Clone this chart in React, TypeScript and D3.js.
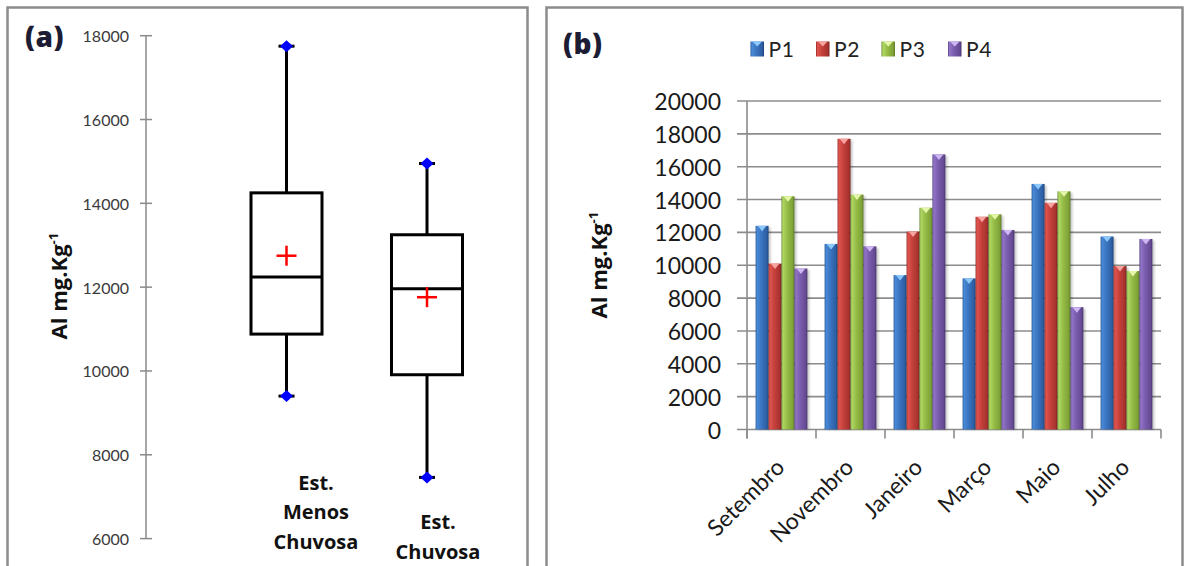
import React from "react";
import * as d3 from "d3";

// ---- Panel (a): seasonal box plot of Al ----
const seasonNames = ["Est. Menos Chuvosa", "Est. Chuvosa"];
const seasonLabelLines = [
  ["Est.", "Menos", "Chuvosa"],
  ["Est.", "Chuvosa"],
];
const seasonMin = [9400, 7460];
const seasonQ1 = [10880, 9910];
const seasonMedian = [12240, 11960];
const seasonQ3 = [14250, 13250];
const seasonMax = [17750, 14950];
const seasonMean = [12750, 11760];
const boxTicks = [6000, 8000, 10000, 12000, 14000, 16000, 18000];

// ---- Panel (b): monthly Al per point ----
const months = ["Setembro", "Novembro", "Janeiro", "Março", "Maio", "Julho"];
const seriesNames = ["P1", "P2", "P3", "P4"];
const p1 = [12400, 11300, 9400, 9200, 14950, 11750];
const p2 = [10100, 17700, 12050, 12950, 13800, 9950];
const p3 = [14200, 14300, 13500, 13100, 14500, 9650];
const p4 = [9800, 11150, 16750, 12150, 7450, 11600];
const seriesValues = [p1, p2, p3, p4];
const barTicks = [0, 2000, 4000, 6000, 8000, 10000, 12000, 14000, 16000, 18000, 20000];

// gradient stops per series: [edge, highlight, base, shade, edge], bevel tip colour
const seriesGradients = [
  ["#1f4f8f", "#4a8ad6", "#3a74c0", "#2d5fa3", "#1f4680"],
  ["#8a2522", "#e05550", "#c5403b", "#a8332f", "#7c2220"],
  ["#5f7f25", "#b0d865", "#94bb45", "#7fa338", "#5e7c25"],
  ["#4f3a78", "#9275c8", "#7a5cad", "#664b94", "#4a3670"],
];
const seriesBevel = ["#8cc8fa", "#f7a3a0", "#e4f7a8", "#cdb6f2"];

const W = 1187;
const H = 566;
const FONT = "Lato, 'Open Sans', sans-serif";
const BOLD = "'Open Sans', Lato, sans-serif";
const FRAME = "#8c8c8c";

function YTitle({ x, y, size }: { x: number; y: number; size: number }) {
  return (
    <text
      transform={`translate(${x},${y}) rotate(-90)`}
      textAnchor="middle"
      fontFamily={BOLD}
      fontWeight={700}
      fontSize={size}
      fill="#111"
    >
      Al mg.Kg
      <tspan fontSize={size * 0.6} dy={-size * 0.42}>
        -1
      </tspan>
    </text>
  );
}

function PanelTag({ x, y, label }: { x: number; y: number; label: string }) {
  return (
    <text
      x={x}
      y={y}
      fontFamily={BOLD}
      fontWeight={800}
      fontSize={28}
      letterSpacing={0.5}
      fill="#1c1c34"
    >
      {label}
    </text>
  );
}

function BoxPanel() {
  const y = d3.scaleLinear().domain([6000, 18000]).range([538.6, 35.7]);
  const x = d3.scalePoint<string>().domain(seasonNames).range([286.5, 427]);
  const axisX = 146;
  const halfW = 35.5;
  const labelDx = [29.5, 11];
  const labelTop = [482, 521.5];
  const lineH = 29.5;

  return (
    <g>
      <rect x={7.5} y={7.5} width={520} height={620} fill="#fff" stroke={FRAME} strokeWidth={2.5} />
      <PanelTag x={25} y={47} label="(a)" />

      {/* axis */}
      <line x1={axisX} x2={axisX} y1={y(18000)} y2={y(6000)} stroke="#8a8a8a" strokeWidth={1.5} />
      {boxTicks.map((t) => (
        <g key={t}>
          <line x1={140} x2={152} y1={y(t)} y2={y(t)} stroke="#8a8a8a" strokeWidth={1.5} />
          <text
            x={129}
            y={y(t)}
            textAnchor="end"
            dominantBaseline="central"
            fontFamily={FONT}
            fontSize={16}
            fill="#3a3a3a"
          >
            {t}
          </text>
        </g>
      ))}
      <YTitle x={67} y={286} size={22} />

      {seasonNames.map((s, i) => {
        const cx = x(s) as number;
        const yMax = y(seasonMax[i]);
        const yMin = y(seasonMin[i]);
        const yQ3 = y(seasonQ3[i]);
        const yQ1 = y(seasonQ1[i]);
        const yMed = y(seasonMedian[i]);
        const yMean = y(seasonMean[i]);
        const diamond = (yy: number) =>
          `M${cx},${yy - 6} L${cx + 6.5},${yy} L${cx},${yy + 6} L${cx - 6.5},${yy} Z`;
        return (
          <g key={s}>
            <line x1={cx} x2={cx} y1={yMax} y2={yQ3} stroke="#000" strokeWidth={3} />
            <line x1={cx} x2={cx} y1={yQ1} y2={yMin} stroke="#000" strokeWidth={3} />
            <line x1={cx - 8} x2={cx + 8} y1={yMax} y2={yMax} stroke="#000" strokeWidth={3} />
            <line x1={cx - 8} x2={cx + 8} y1={yMin} y2={yMin} stroke="#000" strokeWidth={3} />
            <path d={diamond(yMax)} fill="#0000ff" />
            <path d={diamond(yMin)} fill="#0000ff" />
            <rect
              x={cx - halfW}
              y={yQ3}
              width={halfW * 2}
              height={yQ1 - yQ3}
              fill="none"
              stroke="#000"
              strokeWidth={3}
            />
            <line x1={cx - halfW} x2={cx + halfW} y1={yMed} y2={yMed} stroke="#000" strokeWidth={3} />
            <line x1={cx - 10} x2={cx + 10} y1={yMean} y2={yMean} stroke="#ff0000" strokeWidth={2.5} />
            <line x1={cx} x2={cx} y1={yMean - 10} y2={yMean + 10} stroke="#ff0000" strokeWidth={2.5} />
            <text
              textAnchor="middle"
              fontFamily={BOLD}
              fontWeight={700}
              fontSize={20}
              fill="#111"
            >
              {seasonLabelLines[i].map((ln, k) => (
                <tspan
                  key={k}
                  x={cx + labelDx[i]}
                  y={labelTop[i] + k * lineH}
                  dominantBaseline="central"
                >
                  {ln}
                </tspan>
              ))}
            </text>
          </g>
        );
      })}
    </g>
  );
}

function BarPanel() {
  const y = d3.scaleLinear().domain([0, 20000]).range([429.5, 101]);
  const x = d3
    .scaleBand<string>()
    .domain(months)
    .range([747, 1161])
    .paddingInner(0.25)
    .paddingOuter(0.125);
  const xs = d3.scaleBand<string>().domain(seriesNames).range([0, x.bandwidth()]);
  const step = x.step();
  const boundaries = d3.range(months.length + 1).map((i) => 747 + i * step);
  const legendX = [750.5, 816, 881.5, 948];

  return (
    <g>
      <rect x={546.5} y={7.5} width={636} height={620} fill="#fff" stroke={FRAME} strokeWidth={2.5} />
      <PanelTag x={563} y={54} label="(b)" />

      {/* legend */}
      {seriesNames.map((s, j) => (
        <g key={s}>
          <rect x={legendX[j]} y={41.5} width={13.5} height={15} fill={`url(#grad-${s})`} />
          <path
            d={`M${legendX[j] + 2},${41.5} L${legendX[j] + 11.5},${41.5} L${legendX[j] + 6.75},${46.5} Z`}
            fill={seriesBevel[j]}
          />
          <text
            x={legendX[j] + 18}
            y={48.5}
            dominantBaseline="central"
            fontFamily={FONT}
            fontSize={21}
            letterSpacing={0.6}
            fill="#222"
          >
            {s}
          </text>
        </g>
      ))}

      {/* grid + y axis */}
      {barTicks.map((t) => (
        <g key={t}>
          <line x1={737} x2={1161} y1={y(t)} y2={y(t)} stroke="#8c8c8c" strokeWidth={1.6} />
          <text
            x={721}
            y={y(t)}
            textAnchor="end"
            dominantBaseline="central"
            fontFamily={FONT}
            fontSize={23}
            fill="#1a1a1a"
          >
            {t}
          </text>
        </g>
      ))}
      <line x1={747} x2={747} y1={y(20000)} y2={y(0) + 9} stroke="#8c8c8c" strokeWidth={1.6} />
      {boundaries.map((b, i) => (
        <line key={i} x1={b} x2={b} y1={y(0)} y2={y(0) + 9} stroke="#8c8c8c" strokeWidth={1.6} />
      ))}
      <YTitle x={607} y={265} size={22} />

      {/* bars */}
      {months.map((m, i) => (
        <g key={m}>
          {seriesNames.map((s, j) => {
            const v = seriesValues[j][i];
            const bx = (x(m) as number) + (xs(s) as number);
            const bw = xs.bandwidth();
            const by = y(v);
            const bh = y(0) - by;
            return (
              <g key={s}>
                <rect
                  x={bx + 2}
                  y={by + 1.5}
                  width={bw}
                  height={bh - 1.5}
                  fill="#000"
                  opacity={0.22}
                  filter="url(#barShadow)"
                />
                <rect x={bx} y={by} width={bw} height={bh} fill={`url(#grad-${s})`} />
                <path
                  d={`M${bx + bw * 0.16},${by} L${bx + bw * 0.84},${by} L${bx + bw / 2},${by + 5.5} Z`}
                  fill={seriesBevel[j]}
                />
              </g>
            );
          })}
          <text
            transform={`translate(${(x(m) as number) + x.bandwidth() / 2 - 2},${y(0) + 33}) rotate(-45)`}
            textAnchor="end"
            dominantBaseline="central"
            fontFamily={FONT}
            fontSize={23}
            fill="#1a1a1a"
          >
            {m}
          </text>
        </g>
      ))}
    </g>
  );
}

export default function App() {
  return (
    <svg
      width={W}
      height={H}
      viewBox={`0 0 ${W} ${H}`}
      style={{ position: "absolute", left: 0, top: 0, background: "#fff" }}
    >
      <defs>
        {seriesNames.map((s, j) => (
          <linearGradient key={s} id={`grad-${s}`} x1="0" x2="1" y1="0" y2="0">
            <stop offset="0%" stopColor={seriesGradients[j][0]} />
            <stop offset="10%" stopColor={seriesGradients[j][1]} />
            <stop offset="45%" stopColor={seriesGradients[j][2]} />
            <stop offset="85%" stopColor={seriesGradients[j][3]} />
            <stop offset="100%" stopColor={seriesGradients[j][4]} />
          </linearGradient>
        ))}
        <filter id="barShadow" x="-50%" y="-10%" width="200%" height="120%">
          <feGaussianBlur stdDeviation={1.2} />
        </filter>
      </defs>
      <rect width={W} height={H} fill="#fff" />
      <BoxPanel />
      <BarPanel />
    </svg>
  );
}
